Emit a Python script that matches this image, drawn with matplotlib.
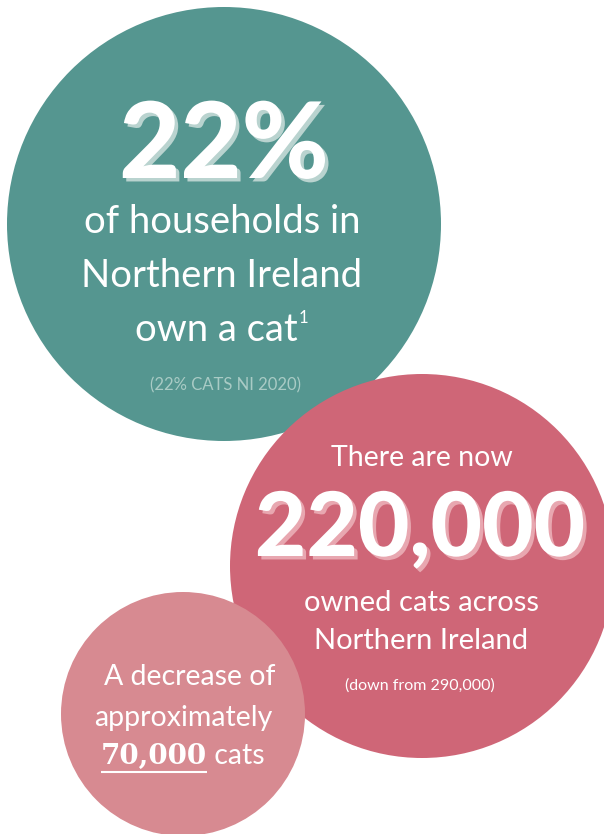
import matplotlib
matplotlib.use('Agg')
import matplotlib.pyplot as plt
import matplotlib.patheffects as pe
from matplotlib.patches import Circle

# Data / text ###############################################################
share_pct = '22%'
share_lines = ['of households in', 'Northern Ireland', 'own a cat']
share_note = '1'
share_source = '(22% CATS NI 2020)'
owned_intro = 'There are now'
owned_total = '220,000'
owned_lines = ['owned cats across', 'Northern Ireland']
owned_prev = '(down from 290,000)'
drop_lines = ['A decrease of', 'approximately']
drop_value = '70,000'
drop_tail = ' cats'

# circles: (x, y, r) in pixels, colour
circles = [((224, 224), 217, '#559690'),
           ((422, 566), 192, '#cf6677'),
           ((183, 714), 122, '#d78a91')]
#############################################################################

fig = plt.figure(figsize=(6.04, 8.34), dpi=100)
ax = fig.add_axes([0, 0, 1, 1])
ax.set_xlim(0, 604)
ax.set_ylim(834, 0)
ax.set_aspect('equal')
ax.axis('off')

for (cx, cy), r, col in circles:
    ax.add_patch(Circle((cx, cy), r, color=col, lw=0))

light = dict(family='Lato', weight='normal', color='white', ha='center', va='center')
big = dict(family='Lato', weight='black', color='white', ha='center', va='center')

def shadow(col):
    return [pe.withSimplePatchShadow(offset=(2.5, -2.5), shadow_rgbFace=col, alpha=1)]

fig.canvas.draw()
rend = fig.canvas.get_renderer()

# teal circle
ax.text(224, 147, share_pct, fontsize=76, path_effects=shadow('#b9d3cf'), **big)
for i, s in enumerate(share_lines[:2]):
    ax.text(222, 222 + i * 54, s, fontsize=27.5, **light)
t = ax.text(216, 330, share_lines[2], fontsize=27.5, **light)
bb = t.get_window_extent(rend)
xr = ax.transData.inverted().transform((bb.x1, bb.y1))[0]
ax.text(xr + 1, 318, share_note, fontsize=12, family='Lato', color='white',
        ha='left', va='center')
ax.text(226, 385, share_source, fontsize=12, family='Lato', color='#a9cbc5',
        ha='center', va='center')

# pink circle
ax.text(422, 458, owned_intro, fontsize=20.5, **light)
ax.text(420, 530, owned_total, fontsize=64, path_effects=shadow('#e8a7b0'), **big)
for i, s in enumerate(owned_lines):
    ax.text(421, 603 + i * 38, s, fontsize=21, **light)
ax.text(420, 686, owned_prev, fontsize=11.5, family='Lato', color='white',
        ha='center', va='center')

# small circle
for i, s in enumerate(drop_lines):
    ax.text(190 if i == 0 else 183, 677 + i * 41, s, fontsize=20.5, **light)
t1 = ax.text(0, 756, drop_value, fontsize=20, family='DejaVu Serif', weight='bold',
             color='white', ha='left', va='center')
t2 = ax.text(0, 756, drop_tail, fontsize=20.5, color='white', family='Lato',
             ha='left', va='center')
w1 = t1.get_window_extent(rend).width
w2 = t2.get_window_extent(rend).width
x0 = 183 - (w1 + w2) / 2
t1.set_x(x0)
t2.set_x(x0 + w1)
ax.plot([x0, x0 + w1], [772, 772], color='white', lw=1.5, solid_capstyle='butt')

fig.savefig('out.png', dpi=100)
